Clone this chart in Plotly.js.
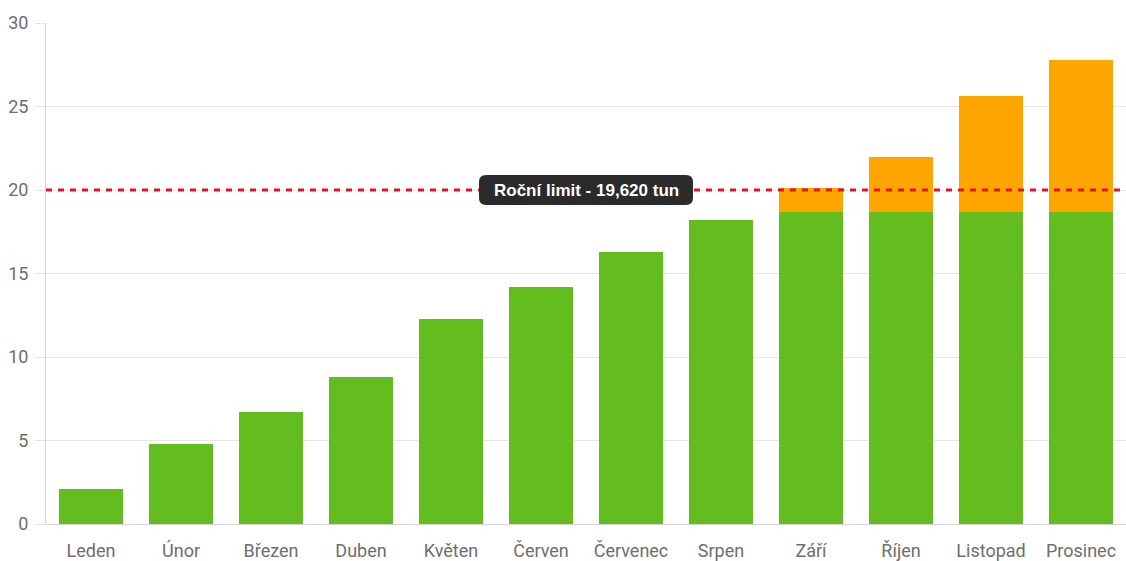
<!DOCTYPE html>
<html>
<head>
<meta charset="utf-8">
<script src="https://cdn.plot.ly/plotly-3.0.1.min.js"></script>
<style>html,body{margin:0;padding:0;background:#fff;}#chart{width:1126px;height:561px;}</style>
</head>
<body>
<div id="chart"></div>
<script>
const months = ["Leden","Únor","Březen","Duben","Květen","Červen","Červenec","Srpen","Září","Říjen","Listopad","Prosinec"];
const withinLimit = [2.1, 4.8, 6.7, 8.8, 12.3, 14.2, 16.3, 18.2, 18.7, 18.7, 18.7, 18.7];
const overLimit   = [0, 0, 0, 0, 0, 0, 0, 0, 1.4, 3.3, 6.9, 9.1];
const limitValue = 20;
const limitLabel = "Roční limit - 19,620 tun";
const yTicks = [0, 5, 10, 15, 20, 25, 30];

const traces = [
  {type:'bar', x:months, y:withinLimit, marker:{color:'#64bd1f'}, hoverinfo:'skip', name:'a'},
  {type:'bar', x:months, y:overLimit, marker:{color:'#ffa500'}, hoverinfo:'skip', name:'b'}
];

const w = 107, h = 15, r = 7;
const roundRect = `M ${-w+r} ${-h} L ${w-r} ${-h} Q ${w} ${-h} ${w} ${-h+r} L ${w} ${h-r} Q ${w} ${h} ${w-r} ${h} L ${-w+r} ${h} Q ${-w} ${h} ${-w} ${h-r} L ${-w} ${-h+r} Q ${-w} ${-h} ${-w+r} ${-h} Z`;

const layout = {
  width:1126, height:561,
  margin:{l:46, r:0, t:23, b:37},
  barmode:'stack', bargap:0.29,
  showlegend:false,
  paper_bgcolor:'#fff', plot_bgcolor:'#fff',
  font:{family:'Roboto, Liberation Sans, sans-serif', size:18, color:'#6e6e6e'},
  xaxis:{type:'category', showgrid:false, showline:true, linecolor:'#d6d6d6', linewidth:1,
         ticks:'', ticklabelstandoff:10, tickfont:{size:18, color:'#6e6e6e'}, fixedrange:true},
  yaxis:{range:[0,30], tickvals:yTicks, ticktext:yTicks.map(String), showgrid:true, gridcolor:'#e6e6e6',
         showline:true, linecolor:'#d6d6d6', linewidth:1, zeroline:false,
         ticks:'outside', ticklen:10, tickcolor:'#e6e6e6', ticklabelstandoff:3,
         tickfont:{size:18, color:'#6e6e6e'}, fixedrange:true},
  shapes:[
    {type:'line', xref:'paper', x0:0, x1:1, yref:'y', y0:limitValue, y1:limitValue,
     line:{color:'#e8102a', width:3, dash:'6px,6px'}, layer:'above'},
    {type:'path', xref:'x', yref:'y', xsizemode:'pixel', ysizemode:'pixel', xanchor:5.5, yanchor:limitValue,
     path:roundRect, fillcolor:'#2b2b2b', line:{width:0}, layer:'above'}
  ],
  annotations:[
    {x:5.5, y:limitValue, xref:'x', yref:'y', text:'<b>'+limitLabel+'</b>', showarrow:false,
     font:{family:'Liberation Sans, Arial, sans-serif', size:17, color:'#fff'}}
  ]
};

Plotly.newPlot('chart', traces, layout, {displayModeBar:false, staticPlot:true});
</script>
</body>
</html>
